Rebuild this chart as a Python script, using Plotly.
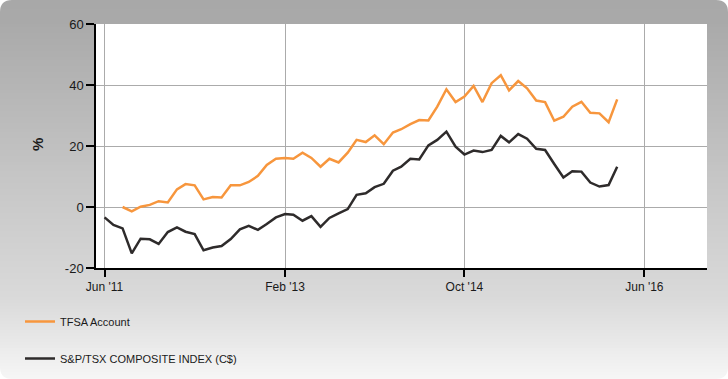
import plotly.graph_objects as go
import pandas as pd

# ---------------- data ----------------
months = pd.date_range("2011-06-01", periods=58, freq="MS")

index_values = [-3.4, -5.9, -7.0, -15.2, -10.4, -10.6, -12.1, -8.2, -6.7, -8.1,
                -8.9, -14.2, -13.3, -12.8, -10.5, -7.3, -6.2, -7.5, -5.6, -3.4,
                -2.3, -2.5, -4.5, -3.0, -6.5, -3.6, -2.1, -0.7, 4.0, 4.5,
                6.5, 7.6, 11.9, 13.2, 15.8, 15.6, 20.2, 22.0, 24.7, 19.8,
                17.2, 18.5, 18.0, 18.7, 23.3, 21.2, 23.9, 22.4, 19.1, 18.7,
                14.1, 9.7, 11.7, 11.6, 8.0, 6.7, 7.2, 13.2]

tfsa_values = [None, None, 0.0, -1.4, 0.1, 0.7, 1.9, 1.5, 5.8, 7.5,
               7.1, 2.5, 3.3, 3.1, 7.1, 7.1, 8.2, 10.2, 13.8, 15.8,
               16.1, 15.8, 17.8, 16.1, 13.2, 15.8, 14.6, 17.8, 22.0, 21.3,
               23.5, 20.6, 24.4, 25.5, 27.2, 28.5, 28.4, 32.9, 38.6, 34.4,
               36.2, 39.7, 34.4, 40.6, 43.2, 38.2, 41.3, 38.9, 34.9, 34.4,
               28.3, 29.6, 32.9, 34.5, 30.9, 30.7, 27.8, 35.3]

series_names = ["TFSA Account", "S&P/TSX COMPOSITE INDEX (C$)"]
y_title = "%"
y_ticks = [-20, 0, 20, 40, 60]
y_tick_labels = ["-20", "0", "20", "40", "60"]
x_ticks = ["2011-06-01", "2013-02-01", "2014-10-01", "2016-06-01"]

# ---------------- layout geometry ----------------
W, H = 728, 379
ML, MR, MT, MB = 96, 21, 24, 111
PW, PH = W - ML - MR, H - MT - MB


def px(x):
    return (x - ML) / PW


def py(y):
    return (H - MB - y) / PH


fig = go.Figure()

fig.add_trace(go.Scatter(x=months, y=tfsa_values, mode="lines", name=series_names[0],
                         legendgroup="a", line=dict(color="#F7963D", width=2.5),
                         connectgaps=False))
fig.add_trace(go.Scatter(x=months, y=index_values, mode="lines", name=series_names[1],
                         legendgroup="b", line=dict(color="#2E2B2B", width=2.5)))

# background gradient (frame)
stops = [(0, 168), (20, 169), (180, 198), (300, 218), (379, 246)]


def shade(y):
    for (y0, c0), (y1, c1) in zip(stops[:-1], stops[1:]):
        if y0 <= y <= y1:
            return c0 + (c1 - c0) * (y - y0) / (y1 - y0)
    return stops[-1][1]


shapes = []
step = 3
y = 0
while y < H:
    c = int(round(shade(y + step / 2)))
    col = f"rgb({c},{c},{c})"
    shapes.append(dict(type="rect", xref="paper", yref="paper",
                       x0=px(0), x1=px(W), y0=py(min(y + step + 0.5, H)), y1=py(y),
                       fillcolor=col, line=dict(width=0), layer="below"))
    y += step

# white plot area
shapes.append(dict(type="rect", xref="paper", yref="paper", x0=0, x1=1, y0=0, y1=1,
                   fillcolor="white", line=dict(width=0), layer="below"))

# rounded corners
R = 12


def corner(cx, cy, dx, dy):
    p0 = (cx + dx * R, cy)
    p1 = (cx, cy + dy * R)
    path = (f"M {px(cx)},{py(cy)} L {px(p0[0])},{py(p0[1])} "
            f"Q {px(cx)},{py(cy)} {px(p1[0])},{py(p1[1])} Z")
    return dict(type="path", xref="paper", yref="paper", path=path,
                fillcolor="white", line=dict(width=0), layer="below")


shapes += [corner(0, 0, 1, 1), corner(W, 0, -1, 1), corner(0, H, 1, -1), corner(W, H, -1, -1)]

FONT = "Liberation Sans, Arial, sans-serif"

fig.update_layout(
    width=W, height=H,
    margin=dict(l=ML, r=MR, t=MT, b=MB, pad=0, autoexpand=False),
    paper_bgcolor="white",
    plot_bgcolor="rgba(0,0,0,0)",
    shapes=shapes,
    font=dict(family=FONT, color="#1a1a1a", size=12),
    showlegend=True,
    legend=dict(xref="container", yref="container",
                x=20 / W, y=1 - 307 / H, xanchor="left", yanchor="top",
                orientation="v", traceorder="grouped", tracegroupgap=18,
                bgcolor="rgba(0,0,0,0)", borderwidth=0,
                font=dict(family=FONT, size=11, color="#1a1a1a")),
    annotations=[dict(text=f"<b>{y_title}</b>", xref="paper", yref="paper",
                      x=px(37), y=py(145), xanchor="center", yanchor="middle",
                      textangle=-90, showarrow=False,
                      font=dict(family=FONT, size=15, color="#1a1a1a"))],
    xaxis=dict(type="date", range=["2011-05-03", "2016-12-30"],
               tickvals=x_ticks, tickformat="%b '%y",
               showgrid=True, gridcolor="#ABABAB", gridwidth=1,
               showline=True, linecolor="#000000", linewidth=1.5,
               ticks="outside", ticklen=7, tickwidth=1.5, tickcolor="#000000",
               tickfont=dict(family=FONT, size=12, color="#1a1a1a"),
               zeroline=False, fixedrange=True),
    yaxis=dict(range=[-20, 60], tickvals=y_ticks, ticktext=y_tick_labels,
               showgrid=True, gridcolor="#ABABAB", gridwidth=1,
               showline=True, linecolor="#000000", linewidth=1.5,
               ticks="outside", ticklen=8, tickwidth=1.5, tickcolor="#000000",
               tickfont=dict(family=FONT, size=13, color="#1a1a1a"),
               zeroline=False, fixedrange=True),
)

fig.write_html("out.html", config={"displayModeBar": False},
               post_script="document.body.style.margin='0';")
